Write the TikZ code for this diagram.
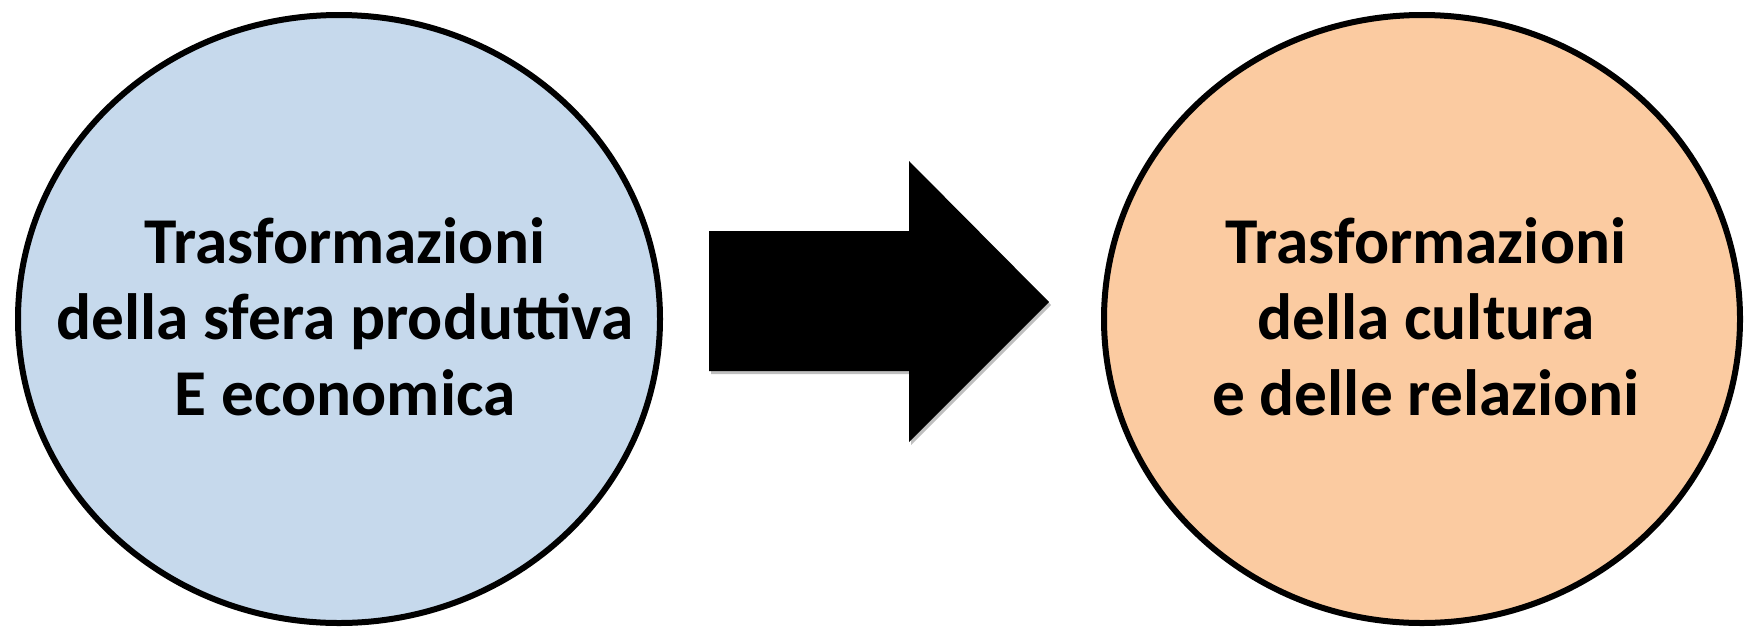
\documentclass[tikz,border=0pt]{standalone}
\usepackage{fontspec}
\setmainfont{Carlito}
\usetikzlibrary{shapes.geometric,shadows}
\definecolor{leftfill}{RGB}{198,217,236}
\definecolor{rightfill}{RGB}{251,203,161}
\tikzset{
  bubble/.style={ellipse,draw=black,line width=3pt,inner sep=0pt},
  label/.style={anchor=base,inner sep=0pt,font=\fontsize{32.7}{38}\selectfont\bfseries},
  bigarrow/.style={fill=black,drop shadow={shadow xshift=1pt,shadow yshift=-1.5pt,opacity=0.25,fill=black}}
}
\begin{document}
\begin{tikzpicture}[x=0.5pt,y=-0.5pt]
\useasboundingbox (0,0) rectangle (1745,628);
\node[bubble,fill=leftfill,minimum width=321pt,minimum height=304pt] (L) at (339,319) {};
\node[bubble,fill=rightfill,minimum width=318pt,minimum height=304pt] (R) at (1422,319) {};
\node[label] (l1) at (345,263) {Trasformazioni};
\node[label] (l2) at (345,339) {della sfera produttiva};
\node[label] (l3) at (345,415) {E economica};
\node[label] (r1) at (1426,263) {Trasformazioni};
\node[label] (r2) at (1426,339) {della cultura};
\node[label] (r3) at (1426,415) {e delle relazioni};
\coordinate (a1) at (709,231);
\coordinate (a2) at (909,231);
\coordinate (a3) at (909,161);
\coordinate (tip) at (1049,302);
\coordinate (a5) at (909,442);
\coordinate (a6) at (909,371);
\coordinate (a7) at (709,371);
\fill[bigarrow] (a1) -- (a2) -- (a3) -- (tip) -- (a5) -- (a6) -- (a7) -- cycle;
\end{tikzpicture}
\end{document}
